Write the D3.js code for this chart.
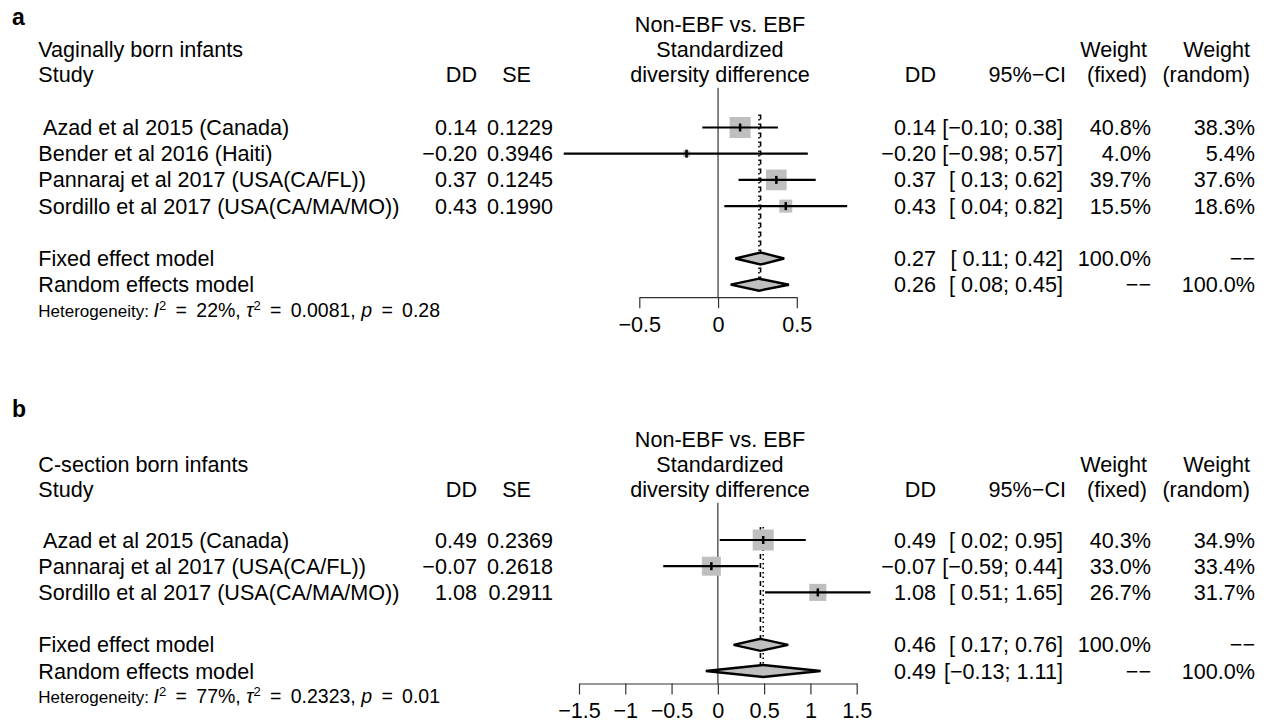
<!DOCTYPE html>
<html>
<head>
<meta charset="utf-8">
<script src="https://cdn.jsdelivr.net/npm/d3@7/dist/d3.min.js"></script>
<style>
  body { margin: 0; background: #fff; }
  text { font-family: "Liberation Sans", Arial, Helvetica, sans-serif; fill: #000; white-space: pre; }
</style>
</head>
<body>
<script>
// panel a: vaginally born infants
var studiesA = [" Azad et al 2015 (Canada)", "Bender et al 2016 (Haiti)", "Pannaraj et al 2017 (USA(CA/FL))", "Sordillo et al 2017 (USA(CA/MA/MO))"];
var ddA = [0.14, -0.20, 0.37, 0.43];
var seA = [0.1229, 0.3946, 0.1245, 0.1990];
var loA = [-0.10, -0.98, 0.13, 0.04];
var hiA = [0.38, 0.57, 0.62, 0.82];
var wFixedA = [40.8, 4.0, 39.7, 15.5];
var wRandomA = [38.3, 5.4, 37.6, 18.6];
var fixedA = [0.27, 0.11, 0.42];
var randomA = [0.26, 0.08, 0.45];
var hetA = ["22%", "0.0081", "0.28"];
var ticksA = [-0.5, 0, 0.5];

// panel b: C-section born infants
var studiesB = [" Azad et al 2015 (Canada)", "Pannaraj et al 2017 (USA(CA/FL))", "Sordillo et al 2017 (USA(CA/MA/MO))"];
var ddB = [0.49, -0.07, 1.08];
var seB = [0.2369, 0.2618, 0.2911];
var loB = [0.02, -0.59, 0.51];
var hiB = [0.95, 0.44, 1.65];
var wFixedB = [40.3, 33.0, 26.7];
var wRandomB = [34.9, 33.4, 31.7];
var fixedB = [0.46, 0.17, 0.76];
var randomB = [0.49, -0.13, 1.11];
var hetB = ["77%", "0.2323", "0.01"];
var ticksB = [-1.5, -1, -0.5, 0, 0.5, 1, 1.5];

var W = 1266, H = 723;
var FS = 21.6;
var svg = d3.select("body").append("svg").attr("width", W).attr("height", H);

var MINUS = "\u2212";
function num(v, d) {
  var s = Math.abs(v).toFixed(d);
  return v < 0 ? MINUS + s : s;
}
function ci(lo, hi) {
  var l = lo < 0 ? num(lo, 2) : " " + lo.toFixed(2);
  return "[" + l + "; " + num(hi, 2) + "]";
}

var col = { study: 38.3, dd: 477, se: 553, dd2: 936, ci: 1063, wf: 1151, wr: 1255 };

function txt(g, x, y, s, anchor, size) {
  return g.append("text")
    .attr("x", x).attr("y", y)
    .attr("xml:space", "preserve")
    .attr("text-anchor", anchor || "start")
    .style("font-size", (size || FS) + "px")
    .text(s);
}

function drawPanel(p) {
  var g = svg.append("g");
  var n = p.studies.length;
  var hb = p.headTop;       // first header baseline
  var hs = 25;              // header line spacing
  var step = 26.2;
  var rowY = function(i) { return p.rowTop + i * step; };
  var yFixed = rowY(n + 1), yRandom = rowY(n + 2), yHet = rowY(n + 3);
  var yAxis = yRandom + 12.5;

  var x = d3.scaleLinear().domain(p.domain).range(p.range);

  // panel letter
  txt(g, 12, p.letterY, p.letter, "start", 23).style("font-weight", "bold");

  // headers
  txt(g, 720, hb, "Non-EBF vs. EBF", "middle");
  txt(g, 720, hb + hs, "Standardized", "middle");
  txt(g, 720, hb + 2 * hs, "diversity difference", "middle");
  txt(g, col.study, hb + hs, p.title);
  txt(g, col.study, hb + 2 * hs, "Study");
  txt(g, col.dd, hb + 2 * hs, "DD", "end");
  txt(g, col.se - 22, hb + 2 * hs, "SE", "end");
  txt(g, col.dd2, hb + 2 * hs, "DD", "end");
  txt(g, col.ci + 3, hb + 2 * hs, "95%" + MINUS + "CI", "end");
  txt(g, col.wf - 4, hb + hs, "Weight", "end");
  txt(g, col.wf - 4, hb + 2 * hs, "(fixed)", "end");
  txt(g, col.wr - 5, hb + hs, "Weight", "end");
  txt(g, col.wr - 5, hb + 2 * hs, "(random)", "end");

  // study rows text
  var off = 7.5;
  p.studies.forEach(function(s, i) {
    var y = rowY(i) + off;
    txt(g, col.study, y, s);
    txt(g, col.dd, y, num(p.dd[i], 2), "end");
    txt(g, col.se, y, p.se[i].toFixed(4), "end");
    txt(g, col.dd2, y, num(p.dd[i], 2), "end");
    txt(g, col.ci, y, ci(p.lo[i], p.hi[i]), "end");
    txt(g, col.wf, y, p.wf[i].toFixed(1) + "%", "end");
    txt(g, col.wr, y, p.wr[i].toFixed(1) + "%", "end");
  });

  // summary rows text
  txt(g, col.study, yFixed + off, "Fixed effect model");
  txt(g, col.dd2, yFixed + off, num(p.fixed[0], 2), "end");
  txt(g, col.ci, yFixed + off, ci(p.fixed[1], p.fixed[2]), "end");
  txt(g, col.wf, yFixed + off, "100.0%", "end");
  txt(g, col.wr, yFixed + off, MINUS + MINUS, "end");
  txt(g, col.study, yRandom + off, "Random effects model");
  txt(g, col.dd2, yRandom + off, num(p.random[0], 2), "end");
  txt(g, col.ci, yRandom + off, ci(p.random[1], p.random[2]), "end");
  txt(g, col.wf, yRandom + off, MINUS + MINUS, "end");
  txt(g, col.wr, yRandom + off, "100.0%", "end");

  // heterogeneity line (plotmath-like spacing)
  var hf = "19.5px", eq = " \u2009=\u2009 ";
  var het = txt(g, col.study, yHet + 6, "Heterogeneity: ", "start", 17);
  var st = function(s) { return het.append("tspan").style("font-size", hf).text(s); };
  het.append("tspan").style("font-style", "italic").style("font-size", hf).text("I");
  het.append("tspan").attr("dy", -7).style("font-size", "13px").text("2");
  st(eq + p.het[0] + ", ").attr("dy", 7);
  het.append("tspan").style("font-style", "italic").style("font-size", hf).text("\u03c4");
  het.append("tspan").attr("dy", -7).style("font-size", "13px").text("2");
  st(eq + p.het[1] + ", ").attr("dy", 7);
  het.append("tspan").style("font-style", "italic").style("font-size", hf).text("p");
  st(eq + p.het[2]);

  // zero line
  g.append("line")
    .attr("x1", x(0)).attr("x2", x(0))
    .attr("y1", hb + 2 * hs + 6).attr("y2", yAxis)
    .attr("stroke", "#333").attr("stroke-width", 1.2);

  // fixed and random reference lines
  g.append("line")
    .attr("x1", x(p.fixed[0])).attr("x2", x(p.fixed[0]))
    .attr("y1", rowY(0) - 13).attr("y2", yRandom)
    .attr("stroke", "#000").attr("stroke-width", 1.6)
    .attr("stroke-dasharray", "5,4");
  g.append("line")
    .attr("x1", x(p.random[0])).attr("x2", x(p.random[0]))
    .attr("y1", rowY(0) - 13).attr("y2", yRandom)
    .attr("stroke", "#000").attr("stroke-width", 1.6)
    .attr("stroke-dasharray", "1.5,3");

  // squares sized by fixed weight
  var size = d3.scaleSqrt().domain([0, d3.max(p.wf)]).range([0, 21]);
  var rows = p.studies.map(function(s, i) {
    return { i: i, est: p.dd[i], lo: p.lo[i], hi: p.hi[i], w: p.wf[i] };
  });
  g.selectAll(".sq").data(rows).enter().append("rect")
    .attr("x", function(d) { return x(d.est) - size(d.w) / 2; })
    .attr("y", function(d) { return rowY(d.i) - size(d.w) / 2; })
    .attr("width", function(d) { return size(d.w); })
    .attr("height", function(d) { return size(d.w); })
    .attr("fill", "#bfbfbf");
  g.selectAll(".ci").data(rows).enter().append("line")
    .attr("x1", function(d) { return x(d.lo); })
    .attr("x2", function(d) { return x(d.hi); })
    .attr("y1", function(d) { return rowY(d.i); })
    .attr("y2", function(d) { return rowY(d.i); })
    .attr("stroke", "#000").attr("stroke-width", 2.2);
  g.selectAll(".pt").data(rows).enter().append("line")
    .attr("x1", function(d) { return x(d.est); })
    .attr("x2", function(d) { return x(d.est); })
    .attr("y1", function(d) { return rowY(d.i) - 4; })
    .attr("y2", function(d) { return rowY(d.i) + 4; })
    .attr("stroke", "#000").attr("stroke-width", 2.5);

  // diamonds
  [[p.fixed, yFixed], [p.random, yRandom]].forEach(function(m) {
    var v = m[0], y = m[1], h = 6;
    g.append("path")
      .attr("d", "M" + x(v[1]) + "," + y + "L" + x(v[0]) + "," + (y - h) +
                 "L" + x(v[2]) + "," + y + "L" + x(v[0]) + "," + (y + h) + "Z")
      .attr("fill", "#bfbfbf").attr("stroke", "#000").attr("stroke-width", 2.4)
      .attr("stroke-linejoin", "miter");
  });

  // axis
  var axis = d3.axisBottom(x).tickValues(p.ticks).tickSize(11).tickSizeOuter(0).tickPadding(8)
    .tickFormat(function(d) { return d < 0 ? MINUS + Math.abs(d) : String(d); });
  var ag = g.append("g").attr("transform", "translate(0," + yAxis + ")").call(axis);
  ag.select(".domain").attr("stroke", "#333").attr("stroke-width", 1.2);
  ag.selectAll(".tick line").attr("stroke", "#333").attr("stroke-width", 1.2);
  ag.selectAll(".tick text").style("font-size", FS + "px")
    .style("font-family", "\"Liberation Sans\", Arial, sans-serif").attr("fill", "#000");
}

drawPanel({
  letter: "a", letterY: 24.5, title: "Vaginally born infants",
  headTop: 31.7, rowTop: 127.5,
  studies: studiesA, dd: ddA, se: seA, lo: loA, hi: hiA, wf: wFixedA, wr: wRandomA,
  fixed: fixedA, random: randomA, het: hetA, ticks: ticksA,
  domain: [-0.5, 0.5], range: [639.3, 796.8]
});
drawPanel({
  letter: "b", letterY: 416.7, title: "C-section born infants",
  headTop: 446.7, rowTop: 540,
  studies: studiesB, dd: ddB, se: seB, lo: loB, hi: hiB, wf: wFixedB, wr: wRandomB,
  fixed: fixedB, random: randomB, het: hetB, ticks: ticksB,
  domain: [-1.5, 1.5], range: [579, 856.7]
});
</script>
</body>
</html>
